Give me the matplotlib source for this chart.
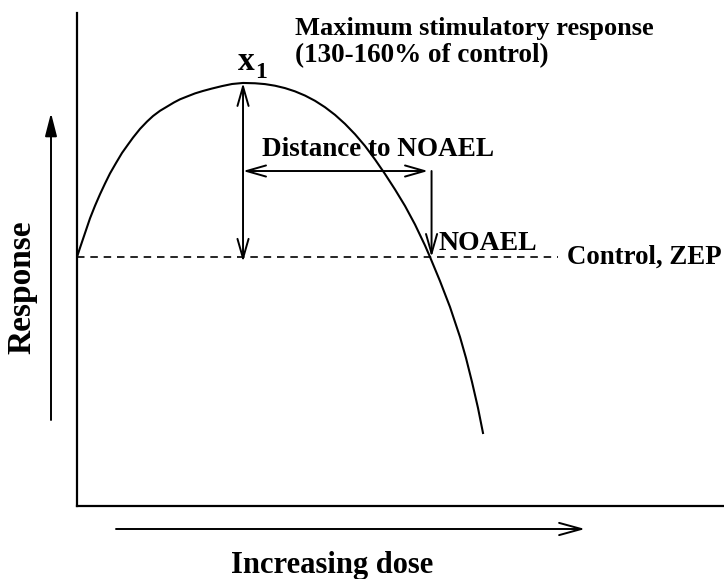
import matplotlib
matplotlib.use("Agg")
import matplotlib.pyplot as plt

# curve (dose in arbitrary units 0-100, response in % of control)
dose = [0.0, 0.46, 1.08, 2.01, 2.78, 3.55, 4.33, 5.10, 6.03, 6.96, 7.88, 8.66,
        9.74, 10.82, 11.75, 12.83, 13.91, 14.99, 15.92, 17.00, 18.24, 19.47,
        20.87, 22.41, 23.96, 25.66, 27.51, 29.06, 30.60, 32.15, 33.69, 35.24,
        36.79, 38.33, 39.88, 41.42, 42.97, 44.51, 46.06, 47.60, 49.15, 50.70,
        52.24, 53.79, 54.56, 56.10, 57.65, 59.20, 60.12, 61.05, 61.98, 62.75]
response = [100.0, 102.6, 106.0, 111.1, 114.7, 118.0, 121.1, 124.0, 127.0, 129.9,
            132.3, 134.3, 136.8, 138.9, 140.5, 142.0, 143.2, 144.4, 145.3, 146.1,
            147.0, 147.7, 148.4, 149.1, 149.7, 150.0, 149.91, 149.67, 149.21, 148.52,
            147.59, 146.38, 144.87, 143.03, 140.83, 138.25, 135.27, 131.91, 128.02,
            123.85, 119.40, 114.66, 109.34, 103.30, 100.0, 93.10, 85.63, 77.0,
            71.0, 64.1, 56.6, 49.43]

control = 100.0
peak_dose, peak_resp = 25.66, 150.0
noael_dose = 54.8
control_end = 74.3
dist_level = 124.7

font = dict(family="Liberation Serif", fontweight="bold", color="black")

fig = plt.figure(figsize=(7.24, 5.79), dpi=100)
ax = fig.add_axes([77 / 724, 1 - 506 / 579, 1 - 77 / 724, (506 - 13) / 579])
ax.set_xlim(0, 100)
ax.set_ylim(28.45, 170.1)
for s in ["top", "right"]:
    ax.spines[s].set_visible(False)
for s in ["left", "bottom"]:
    ax.spines[s].set_linewidth(1.6)
ax.set_xticks([])
ax.set_yticks([])

# response curve and control level
ax.plot(dose, response, color="black", lw=1.5, solid_joinstyle="round")
ax.plot([0, control_end], [control, control], color="black", lw=1.2,
        linestyle=(0, (4.5, 3.5)))

head = dict(color="black", lw=1.4, shrinkA=0, shrinkB=0, mutation_scale=20)

# maximum response arrow
ax.annotate("", xy=(peak_dose, peak_resp), xytext=(peak_dose, 98.6),
            arrowprops=dict(arrowstyle="<->,head_length=0.7,head_width=0.2", **head))
# distance to NOAEL
ax.annotate("", xy=(peak_dose, dist_level), xytext=(54.25, dist_level),
            arrowprops=dict(arrowstyle="<->,head_length=0.7,head_width=0.2", **head))
ax.annotate("", xy=(noael_dose, control), xytext=(noael_dose, dist_level),
            arrowprops=dict(arrowstyle="->,head_length=0.7,head_width=0.2", **head))

ax.text(33.7, 163.8, "Maximum stimulatory response", fontsize=19, ha="left", va="baseline", **font)
ax.text(33.7, 156.0, "(130-160% of control)", fontsize=19.5, ha="left", va="baseline", **font)
ax.text(24.9, 153.7, "x", fontsize=24, ha="left", va="baseline", **font)
ax.text(27.6, 151.4, "1", fontsize=17, ha="left", va="baseline", **font)
ax.text(28.6, 129.0, "Distance to NOAEL", fontsize=19.5, ha="left", va="baseline", **font)
ax.text(55.8, 102.0, "NOAEL", fontsize=20, ha="left", va="baseline", **font)
ax.text(75.7, 100.0, "Control, ZEP", fontsize=19.4, ha="left", va="center", **font)

# axis labels with arrows outside the axes
fig.text(22 / 724, 1 - 287 / 579, "Response", fontsize=24, rotation=90,
         ha="center", va="center", **font)
fig.text(332 / 724, 1 - 565 / 579, "Increasing dose", fontsize=22,
         ha="center", va="center", **font)
ax.annotate("", xy=(51, 579 - 113), xytext=(51, 579 - 420), xycoords="figure pixels",
            arrowprops=dict(arrowstyle="-|>,head_length=0.7,head_width=0.18", **head),
            annotation_clip=False)
ax.annotate("", xy=(585, 579 - 529), xytext=(116, 579 - 529), xycoords="figure pixels",
            arrowprops=dict(arrowstyle="->,head_length=0.8,head_width=0.22", **head),
            annotation_clip=False)

fig.savefig("out.png", dpi=100)
